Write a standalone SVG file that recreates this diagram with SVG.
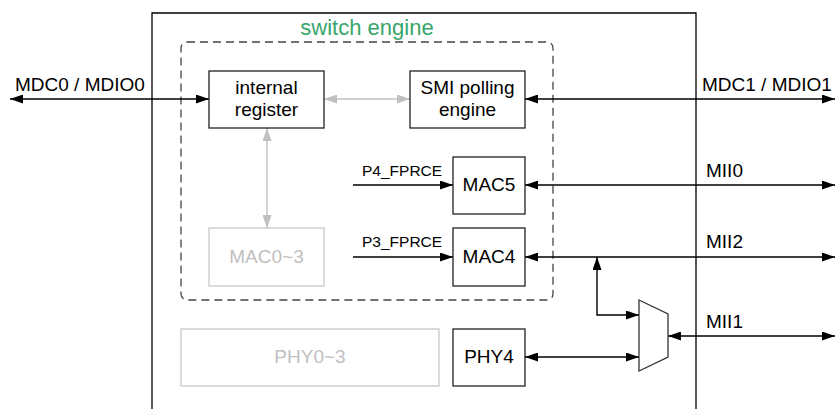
<svg xmlns="http://www.w3.org/2000/svg" width="835" height="409" viewBox="0 0 835 409">
<defs>
<marker id="ah" viewBox="0 0 13 9" refX="13" refY="4.5" markerWidth="13" markerHeight="9" markerUnits="userSpaceOnUse" orient="auto-start-reverse"><path d="M0,0 L13,4.5 L0,9 z" fill="#000"/></marker>
<marker id="ag" viewBox="0 0 13 9" refX="13" refY="4.5" markerWidth="13" markerHeight="9" markerUnits="userSpaceOnUse" orient="auto-start-reverse"><path d="M0,0 L13,4.5 L0,9 z" fill="#c0c0c0"/></marker>
</defs>
<style>
text{font-family:"Liberation Sans",Arial,sans-serif;font-size:19px;fill:#000}
.box{fill:#fff;stroke:#222;stroke-width:1.3}
.gbox{fill:#fff;stroke:#c8c8c8;stroke-width:1.3}
.gt{fill:#c0c0c0}
.c{text-anchor:middle}
.sm{font-size:15.5px}
.ln{fill:none;stroke:#000;stroke-width:1.4}
.both{marker-start:url(#ah);marker-end:url(#ah)}
.end{marker-end:url(#ah)}
.gl{fill:none;stroke:#c0c0c0;stroke-width:1.4;marker-start:url(#ag);marker-end:url(#ag)}
</style>
<rect width="835" height="409" fill="#fff"/>
<g id="chip">
<path d="M152,409 V13 H696 V409" fill="none" stroke="#000" stroke-width="1.3"/>
</g>
<g id="switch-engine">
<rect x="181" y="42" width="372" height="258" rx="6" fill="none" stroke="#444" stroke-width="1.3" stroke-dasharray="8,5"/>
<text x="367" y="35" class="c" style="fill:#38a56a;font-size:22px">switch engine</text>
</g>
<g id="connectors">
<path class="ln both" d="M10,99 H209"/>
<path class="ln both" d="M525,99 H835"/>
<path class="gl" d="M324,99 H410"/>
<path class="gl" d="M267,128 V228"/>
<path class="ln end" d="M353,185 H453"/>
<path class="ln end" d="M353,257 H453"/>
<path class="ln both" d="M525,185 H835"/>
<path class="ln both" d="M525,257 H835"/>
<path class="ln both" d="M639,315 H597 V257"/>
<path class="ln both" d="M525,357 H639"/>
<path class="ln both" d="M668,336 H835"/>
<text x="15" y="91">MDC0 / MDIO0</text>
<text x="702" y="91">MDC1 / MDIO1</text>
<text x="362" y="176" class="sm">P4_FPRCE</text>
<text x="362" y="247" class="sm">P3_FPRCE</text>
<text x="706" y="177">MII0</text>
<text x="706" y="248">MII2</text>
<text x="706" y="328">MII1</text>
</g>
<g id="internal-register">
<rect class="box" x="209" y="71" width="115" height="57"/>
<text x="266.5" y="94" class="c">internal</text>
<text x="266.5" y="116" class="c">register</text>
</g>
<g id="smi-polling-engine">
<rect class="box" x="410" y="71" width="115" height="57"/>
<text x="467.5" y="94" class="c">SMI polling</text>
<text x="467.5" y="116" class="c">engine</text>
</g>
<g id="mac5">
<rect class="box" x="453" y="157" width="72" height="57"/>
<text x="489" y="191" class="c">MAC5</text>
</g>
<g id="mac4">
<rect class="box" x="453" y="228" width="72" height="58"/>
<text x="489" y="263" class="c">MAC4</text>
</g>
<g id="mac0-3">
<rect class="gbox" x="209" y="228" width="115" height="58"/>
<text x="266.5" y="263" class="c gt">MAC0~3</text>
</g>
<g id="phy0-3">
<rect class="gbox" x="181" y="329" width="258" height="57"/>
<text x="310" y="363" class="c gt">PHY0~3</text>
</g>
<g id="phy4">
<rect class="box" x="453" y="329" width="72" height="57"/>
<text x="489" y="363" class="c">PHY4</text>
</g>
<g id="mux">
<path d="M639,300 L668,314 L668,357 L639,371 Z" fill="#fff" stroke="#333" stroke-width="1.3"/>
</g>
</svg>
